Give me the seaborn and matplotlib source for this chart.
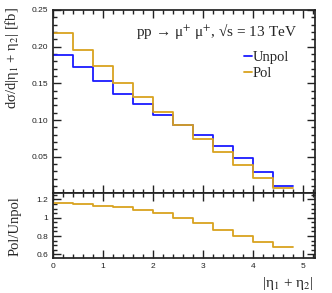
import numpy as np
import matplotlib
matplotlib.use('Agg')
import matplotlib.pyplot as plt
from matplotlib.ticker import MultipleLocator, FuncFormatter
import seaborn as sns

# bins of |eta1 + eta2|
edges = [0.0, 0.4, 0.8, 1.2, 1.6, 2.0, 2.4, 2.8, 3.2, 3.6, 4.0, 4.4, 4.8]
unpol = [0.189, 0.172, 0.153, 0.136, 0.122, 0.107, 0.093, 0.079, 0.064, 0.048, 0.029, 0.0095]
pol = [0.218, 0.196, 0.173, 0.151, 0.132, 0.111, 0.093, 0.074, 0.056, 0.039, 0.021, 0.007]
ratio = [1.156, 1.145, 1.130, 1.112, 1.083, 1.047, 1.000, 0.939, 0.870, 0.800, 0.740, 0.676]

centers = [(a + b) / 2 for a, b in zip(edges[:-1], edges[1:])]
c_unpol = '#1a1aff'
c_pol = '#d9a31f'

sns.set_theme(style='ticks')
plt.rcParams['font.family'] = ['Liberation Serif', 'DejaVu Serif']
plt.rcParams.update({
    'xtick.direction': 'in', 'ytick.direction': 'in',
    'xtick.top': True, 'ytick.right': True,
    'xtick.minor.visible': True, 'ytick.minor.visible': True,
    'xtick.major.size': 5.5, 'ytick.major.size': 5.5,
    'xtick.minor.size': 3, 'ytick.minor.size': 3,
    'xtick.color': '#222222', 'ytick.color': '#222222',
    'xtick.labelsize': 6, 'ytick.labelsize': 6,
    'axes.edgecolor': '#222222',
})

fig = plt.figure(figsize=(3.32, 2.93), dpi=100)
ax = fig.add_axes([0.16, 0.34, 0.789, 0.626])
axr = fig.add_axes([0.16, 0.119, 0.789, 0.221], sharex=ax)

sns.histplot(x=centers, weights=unpol, bins=edges, element='step', fill=False,
             color=c_unpol, lw=1.3, ax=ax, label='Unpol')
sns.histplot(x=centers, weights=pol, bins=edges, element='step', fill=False,
             color=c_pol, lw=1.3, ax=ax, label='Pol')
sns.histplot(x=centers, weights=ratio, bins=edges, element='step', fill=False,
             color=c_pol, lw=1.3, ax=axr)

ax.set_xlim(0, 5.25)
ax.set_ylim(0, 0.25)
axr.set_ylim(0.56, 1.265)

ax.xaxis.set_major_locator(MultipleLocator(1))
ax.xaxis.set_minor_locator(MultipleLocator(0.2))
ax.yaxis.set_major_locator(MultipleLocator(0.05))
ax.yaxis.set_minor_locator(MultipleLocator(0.01))
ax.yaxis.set_major_formatter(FuncFormatter(lambda v, p: '' if abs(v) < 1e-9 else f'{v:.2f}'))
axr.yaxis.set_major_locator(MultipleLocator(0.2))
axr.yaxis.set_minor_locator(MultipleLocator(0.05))
axr.yaxis.set_major_formatter(FuncFormatter(lambda v, p: f'{v:g}'))
ax.tick_params(axis='x', labelbottom=False)

for a in (ax, axr):
    a.set_xlabel('')
    a.set_ylabel('')
    a.tick_params(which='both', direction='in', top=True, right=True,
                  bottom=True, left=True, color='#222222', width=1.0)
    a.tick_params(which='major', length=5.5)
    a.tick_params(which='minor', length=3)
    for lab in a.get_xticklabels() + a.get_yticklabels():
        lab.set_family('Liberation Sans')

ax.text(0.93, 0.885, 'pp → μ$^{+}$ μ$^{+}$, √s = 13 TeV', math_fontfamily='stix',
        transform=ax.transAxes, ha='right', va='center', fontsize=11)
ax.legend(loc='upper right', bbox_to_anchor=(0.93, 0.815), frameon=False, fontsize=10.5,
          handlelength=0.55, handletextpad=0.1, labelspacing=0.15, borderpad=0)

fig.text(0.035, 0.975, 'dσ/d|η$_{1}$ + η$_{2}$| [fb]', rotation=90, math_fontfamily='stix',
         ha='center', va='top', fontsize=10.5)
fig.text(0.045, 0.23, 'Pol/Unpol', rotation=90, ha='center', va='center', fontsize=10.5)
fig.text(0.945, 0.005, '|η$_{1}$ + η$_{2}$|', math_fontfamily='stix',
         ha='right', va='bottom', fontsize=11)

fig.savefig('out.png', dpi=100)
